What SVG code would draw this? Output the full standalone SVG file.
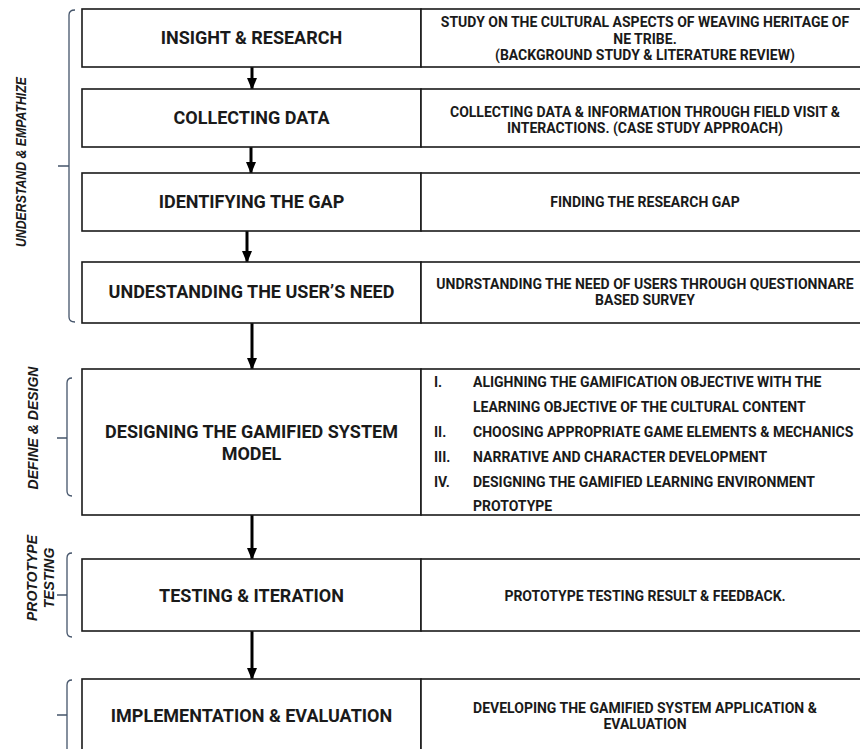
<svg xmlns="http://www.w3.org/2000/svg" width="860" height="749" viewBox="0 0 860 749">
<defs>
<style>
.box{fill:#fff;stroke:#1a1a1a;stroke-width:1.6}
.lt{font-family:Roboto,"Liberation Sans",sans-serif;font-weight:700;font-size:18px;fill:#1a1a1a;text-anchor:middle}
.rt{font-family:Roboto,"Liberation Sans",sans-serif;font-weight:700;font-size:14px;fill:#1a1a1a;text-anchor:middle}
.li{font-family:Roboto,"Liberation Sans",sans-serif;font-weight:700;font-size:14px;fill:#1a1a1a}
.ph{font-family:"Liberation Sans",Arial,sans-serif;font-weight:700;font-style:italic;font-size:14px;fill:#1a1a1a;text-anchor:middle}
.br{fill:none;stroke:#44546a;stroke-width:1.3}
.ar{stroke:#000;stroke-width:3;fill:none}
</style>
<marker id="ah" viewBox="0 0 12 10" refX="11" refY="5" markerWidth="12" markerHeight="10" markerUnits="userSpaceOnUse" orient="auto">
<path d="M0,0 L12,5 L0,10 Z" fill="#000"/>
</marker>
</defs>
<rect width="860" height="749" fill="#fff"/>

<g id="phase-labels">
<text class="ph" transform="translate(26,162) rotate(-90)" textLength="170" lengthAdjust="spacingAndGlyphs">UNDERSTAND &amp; EMPATHIZE</text>
<text class="ph" transform="translate(38,428) rotate(-90)">DEFINE &amp; DESIGN</text>
<text class="ph" transform="translate(37,578) rotate(-90)">PROTOTYPE</text>
<text class="ph" transform="translate(54,578) rotate(-90)">TESTING</text>
</g>

<g id="braces">
<path class="br" d="M75,10 Q69,10 69,15 L69,317 Q69,322 75,322 M69,166 L58,166"/>
<path class="br" d="M72,378 Q67,378 67,383 L67,491 Q67,496 72,496 M67,438 L57,438"/>
<path class="br" d="M72,553 Q67,553 67,558 L67,632 Q67,637 72,637 M67,595 L57,595"/>
<path class="br" d="M72,680 Q67,680 67,685 L67,760 M67,715 L57,715"/>
</g>

<g id="connectors">
<line class="ar" x1="252" y1="67" x2="252" y2="89" marker-end="url(#ah)"/>
<line class="ar" x1="251" y1="147" x2="251" y2="173" marker-end="url(#ah)"/>
<line class="ar" x1="247" y1="231" x2="247" y2="262" marker-end="url(#ah)"/>
<line class="ar" x1="252" y1="323" x2="252" y2="369" marker-end="url(#ah)"/>
<line class="ar" x1="252" y1="515" x2="252" y2="559" marker-end="url(#ah)"/>
<line class="ar" x1="252" y1="631" x2="252" y2="679" marker-end="url(#ah)"/>
</g>

<g id="insight-research">
<rect class="box" x="82" y="9" width="339" height="58"/>
<rect class="box" x="421" y="9" width="480" height="58"/>
<text class="lt" x="251.5" y="44">INSIGHT &amp; RESEARCH</text>
<text class="rt" x="645" y="27">STUDY ON THE CULTURAL ASPECTS OF WEAVING HERITAGE OF</text>
<text class="rt" x="645" y="44">NE TRIBE.</text>
<text class="rt" x="645" y="60">(BACKGROUND STUDY &amp; LITERATURE REVIEW)</text>
</g>

<g id="collecting-data">
<rect class="box" x="82" y="89" width="339" height="58"/>
<rect class="box" x="421" y="89" width="480" height="58"/>
<text class="lt" x="251.5" y="124">COLLECTING DATA</text>
<text class="rt" x="645" y="117">COLLECTING DATA &amp; INFORMATION THROUGH FIELD VISIT &amp;</text>
<text class="rt" x="645" y="133">INTERACTIONS. (CASE STUDY APPROACH)</text>
</g>

<g id="identifying-gap">
<rect class="box" x="82" y="173" width="339" height="58"/>
<rect class="box" x="421" y="173" width="480" height="58"/>
<text class="lt" x="251.5" y="208">IDENTIFYING THE GAP</text>
<text class="rt" x="645" y="207">FINDING THE RESEARCH GAP</text>
</g>

<g id="user-need">
<rect class="box" x="82" y="262" width="339" height="61"/>
<rect class="box" x="421" y="262" width="480" height="61"/>
<text class="lt" x="251.5" y="298">UNDESTANDING THE USER’S NEED</text>
<text class="rt" x="645" y="289">UNDRSTANDING THE NEED OF USERS THROUGH QUESTIONNARE</text>
<text class="rt" x="645" y="305">BASED SURVEY</text>
</g>

<g id="designing-model">
<rect class="box" x="82" y="369" width="339" height="146"/>
<rect class="box" x="421" y="369" width="480" height="146"/>
<text class="lt" x="251.5" y="438">DESIGNING THE GAMIFIED SYSTEM</text>
<text class="lt" x="251.5" y="460">MODEL</text>
<text class="li" x="434" y="387">I.</text>
<text class="li" x="473" y="387">ALIGHNING THE GAMIFICATION OBJECTIVE WITH THE</text>
<text class="li" x="473" y="412">LEARNING OBJECTIVE OF THE CULTURAL CONTENT</text>
<text class="li" x="434" y="437">II.</text>
<text class="li" x="473" y="437">CHOOSING APPROPRIATE GAME ELEMENTS &amp; MECHANICS</text>
<text class="li" x="434" y="462">III.</text>
<text class="li" x="473" y="462">NARRATIVE AND CHARACTER DEVELOPMENT</text>
<text class="li" x="434" y="487">IV.</text>
<text class="li" x="473" y="487">DESIGNING THE GAMIFIED LEARNING ENVIRONMENT</text>
<text class="li" x="473" y="511">PROTOTYPE</text>
</g>

<g id="testing-iteration">
<rect class="box" x="82" y="559" width="339" height="72"/>
<rect class="box" x="421" y="559" width="480" height="72"/>
<text class="lt" x="251.5" y="602">TESTING &amp; ITERATION</text>
<text class="rt" x="645" y="601">PROTOTYPE TESTING RESULT &amp; FEEDBACK.</text>
</g>

<g id="implementation-evaluation">
<rect class="box" x="82" y="679" width="339" height="90"/>
<rect class="box" x="421" y="679" width="480" height="90"/>
<text class="lt" x="251.5" y="722">IMPLEMENTATION &amp; EVALUATION</text>
<text class="rt" x="645" y="713">DEVELOPING THE GAMIFIED SYSTEM APPLICATION &amp;</text>
<text class="rt" x="645" y="729">EVALUATION</text>
</g>
</svg>
